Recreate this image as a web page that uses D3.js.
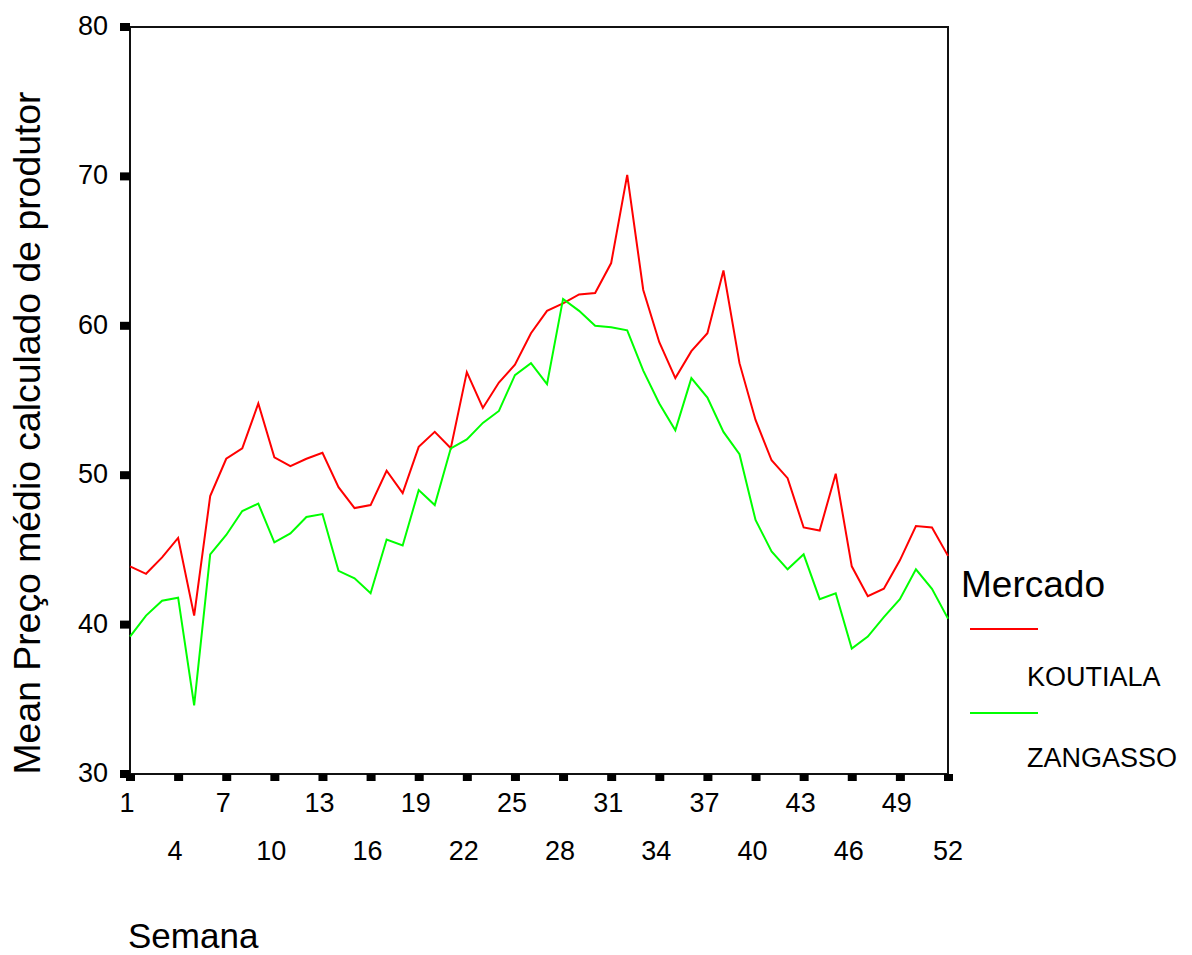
<!DOCTYPE html>
<html><head><meta charset="utf-8">
<script src="https://cdn.jsdelivr.net/npm/d3@7"></script>
<style>body{margin:0;background:#fff}svg{display:block}text{font-family:"Liberation Sans",Arial,sans-serif;fill:#000}</style>
</head><body>
<script>
const weeks = d3.range(1, 53);
const koutiala = [43.9,43.4,44.5,45.8,40.6,48.6,51.1,51.8,54.8,51.2,50.6,51.1,51.5,49.2,47.8,48.0,50.3,48.8,51.9,52.9,51.8,56.9,54.5,56.2,57.4,59.5,61.0,61.5,62.1,62.2,64.2,70.1,62.4,58.9,56.5,58.3,59.5,63.7,57.5,53.7,51.0,49.8,46.5,46.3,50.1,43.9,41.9,42.4,44.3,46.6,46.5,44.6];
const zangasso = [39.2,40.6,41.6,41.8,34.6,44.7,46.0,47.6,48.1,45.5,46.1,47.2,47.4,43.6,43.1,42.1,45.7,45.3,49.0,48.0,51.8,52.4,53.5,54.3,56.7,57.5,56.1,61.8,61.0,60.0,59.9,59.7,57.0,54.8,53.0,56.5,55.2,52.9,51.4,47.0,44.9,43.7,44.7,41.7,42.1,38.4,39.2,40.5,41.7,43.7,42.4,40.4];
const yTicks = [30,40,50,60,70,80];
const xTicks = d3.range(1, 53, 3);
const seriesNames = ["KOUTIALA","ZANGASSO"];
const seriesColors = ["#ff0000","#00ff00"];
const yTitle = "Mean Preço médio calculado de produtor";
const xTitle = "Semana";
const legendTitle = "Mercado";

const W = 1192, H = 955;
const L = 130, R = 948, T = 27, B = 774;
const svg = d3.select("body").append("svg").attr("width", W).attr("height", H);
const x = d3.scaleLinear().domain([1, 52]).range([L, R]);
const y = d3.scaleLinear().domain([30, 80]).range([B, T]);

// frame
svg.append("rect").attr("x", L).attr("y", T).attr("width", R - L).attr("height", B - T)
  .attr("fill", "none").attr("stroke", "#111").attr("stroke-width", 2);

// y ticks
const yg = svg.append("g");
yTicks.forEach(v => {
  yg.append("rect").attr("x", L - 10).attr("y", y(v) - 4).attr("width", 10).attr("height", 8).attr("fill", "#000");
  yg.append("text").attr("x", 108).attr("y", y(v) + 8).attr("text-anchor", "end")
    .style("font-size", "27px").text(v);
});
// x ticks
const xg = svg.append("g");
xTicks.forEach((v, i) => {
  xg.append("rect").attr("x", x(v) - 4).attr("y", B).attr("width", 9).attr("height", 7).attr("fill", "#000");
  xg.append("text").attr("x", x(v) - (v === 52 ? 0 : 3)).attr("y", i % 2 === 0 ? 812 : 860)
    .attr("text-anchor", "middle").style("font-size", "27px").text(v);
});

// lines
const line = d3.line().x((d, i) => x(weeks[i])).y(d => y(d));
[koutiala, zangasso].forEach((s, k) => {
  svg.append("path").datum(s).attr("d", line).attr("fill", "none")
    .attr("stroke", seriesColors[k]).attr("stroke-width", 2).attr("stroke-linejoin", "miter");
});

// titles
svg.append("text").attr("transform", "translate(40,433) rotate(-90)").attr("text-anchor", "middle")
  .style("font-size", "36px").attr("textLength", 683).attr("lengthAdjust", "spacingAndGlyphs").text(yTitle);
svg.append("text").attr("x", 128).attr("y", 948).style("font-size", "35px").text(xTitle);

// legend
svg.append("text").attr("x", 961).attr("y", 597).style("font-size", "37px").text(legendTitle);
const legY = [629, 713], legTY = [686, 767];
seriesNames.forEach((n, k) => {
  svg.append("line").attr("x1", 970).attr("x2", 1038).attr("y1", legY[k]).attr("y2", legY[k])
    .attr("stroke", seriesColors[k]).attr("stroke-width", 2);
  svg.append("text").attr("x", 1027).attr("y", legTY[k]).style("font-size", "27px").text(n);
});
</script>
</body></html>
